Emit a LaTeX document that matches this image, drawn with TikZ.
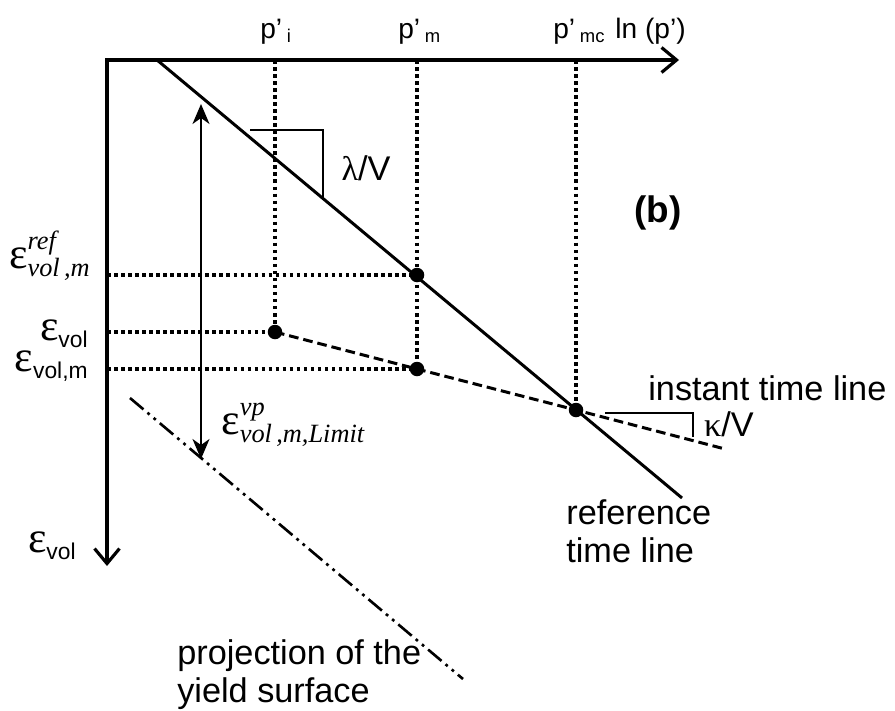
\documentclass[tikz,border=0pt]{standalone}
\usepackage{fontspec}
\setmainfont{Liberation Sans}
\newfontfamily\greekfont{Liberation Serif}
\usepackage{tikz}
\usetikzlibrary{positioning, arrows.meta}
\tikzset{font={\fontsize{19.5pt}{21.5}\selectfont}}
\newcommand{\eps}{{\greekfont\fontsize{25pt}{28}\selectfont ε}}
\newcommand{\subsf}[1]{\raisebox{-0.4ex}{\fontsize{13pt}{15}\selectfont #1}}
\newcommand{\psub}[1]{\,\raisebox{-2.5pt}{\fontsize{10.5pt}{12}\selectfont #1}}
\newcommand{\idxfont}{\greekfont\itshape\fontsize{15pt}{17}\selectfont}
\newcommand{\epsidx}[2]{$\mbox{\eps}^{\mbox{\idxfont #1}}_{\mbox{\idxfont #2}}$}

\begin{document}
\begin{tikzpicture}[
  x=0.02cm, y=-0.02cm,
  axis/.style={line width=1.8pt, {Straight Barb[length=3mm, width=5mm]}-{Straight Barb[length=3mm, width=5mm]}},
  refline/.style={line width=1.7pt},
  instline/.style={line width=1.7pt, dash pattern=on 5.5pt off 2.8pt},
  guide/.style={line width=2pt, dash pattern=on 2pt off 2pt},
  yieldline/.style={line width=1.5pt, dash pattern=on 10pt off 3pt on 1.6pt off 3pt on 1.6pt off 3pt},
  span/.style={line width=1.1pt, {Stealth[length=4mm, width=3.4mm, inset=1.2mm]}-{Stealth[length=4mm, width=3.4mm, inset=1.2mm]}},
  tri/.style={line width=1.3pt},
  dot/.style={circle, fill=black, inner sep=0pt, minimum size=0.29cm},
  lbl/.style={inner sep=0pt},
  toplbl/.style={inner sep=0pt, anchor=base west, font=\fontsize{16pt}{18}\selectfont}
]
\useasboundingbox (0,0) rectangle (895,710);
% axes
\coordinate (O) at (107,60);
\coordinate (xtip) at (679,60);
\coordinate (ytip) at (107,566);
\draw[axis] (ytip) -- (O) -- (xtip);
% points
\coordinate (cI) at (275,332);
\coordinate (cM) at (417,369);
\coordinate (cRef) at (417,275);
\coordinate (cMC) at (576,410);
\coordinate (refA) at (157,60);
\coordinate (refB) at (682,498);
\coordinate (instEnd) at (725,449);
% guides
\draw[guide] (275,60) -- (cI);
\draw[guide] (417,60) -- (cM);
\draw[guide] (576,60) -- (cMC);
\draw[guide] (107,275) -- (cRef);
\draw[guide] (107,332) -- (cI);
\draw[guide] (107,369) -- (cM);
% time lines
\draw[refline] (refA) -- (refB);
\draw[instline] (cI) -- (cM) -- (cMC) -- (instEnd);
\node[dot] (dotI) at (cI) {};
\node[dot] (dotM) at (cM) {};
\node[dot] (dotRef) at (cRef) {};
\node[dot] (dotMC) at (cMC) {};
% slopes
\draw[tri] (250,130) -- (323,130) -- (323,199);
\draw[tri] (605,413) -- (693,413) -- (693,437);
\node[lbl] (lam) at (366,168) {{\greekfont λ}/V};
\node[lbl] (kap) at (729,424) {{\greekfont κ}/V};
% limit
\coordinate (spTop) at (201,104);
\coordinate (spBot) at (201,459);
\draw[span] (spBot) -- (spTop);
\draw[yieldline] (130,398) -- (463,679);
% axis labels
\node[toplbl] (pI) at (260,38) {p’\psub{i}};
\node[toplbl] (pM) at (398,38) {p’\psub{m}};
\node[toplbl] (pMC) at (553,38) {p’\psub{mc}};
\node[toplbl] (lnp) at (615,38) {ln (p’)};
\node[lbl, anchor=base east] (eRef) at (91,268) {\epsidx{ref}{vol\,,m}};
\node[lbl, anchor=base east] (eVol) at (88,340) {\eps\subsf{vol}};
\node[lbl, anchor=base east] (eVolM) at (88,371) {\eps\subsf{vol,m}};
\node[lbl, anchor=base west] (eVp) at (221,434) {\epsidx{vp}{vol\,,m,Limit}};
\node[lbl, anchor=base east] (eAx) at (76,552) {\eps\subsf{vol}};
\node[lbl] (tagb) at (658,213) {\fontsize{21pt}{24}\selectfont\bfseries (b)};
\node[lbl, anchor=base west] (inst) at (648,400) {instant time line};
\node[lbl, anchor=base west, align=left] (reft) at (566,562) {reference\\time line};
\node[lbl, anchor=base west, align=left] (yield) at (177,702) {projection of the\\yield surface};
\end{tikzpicture}
\end{document}
